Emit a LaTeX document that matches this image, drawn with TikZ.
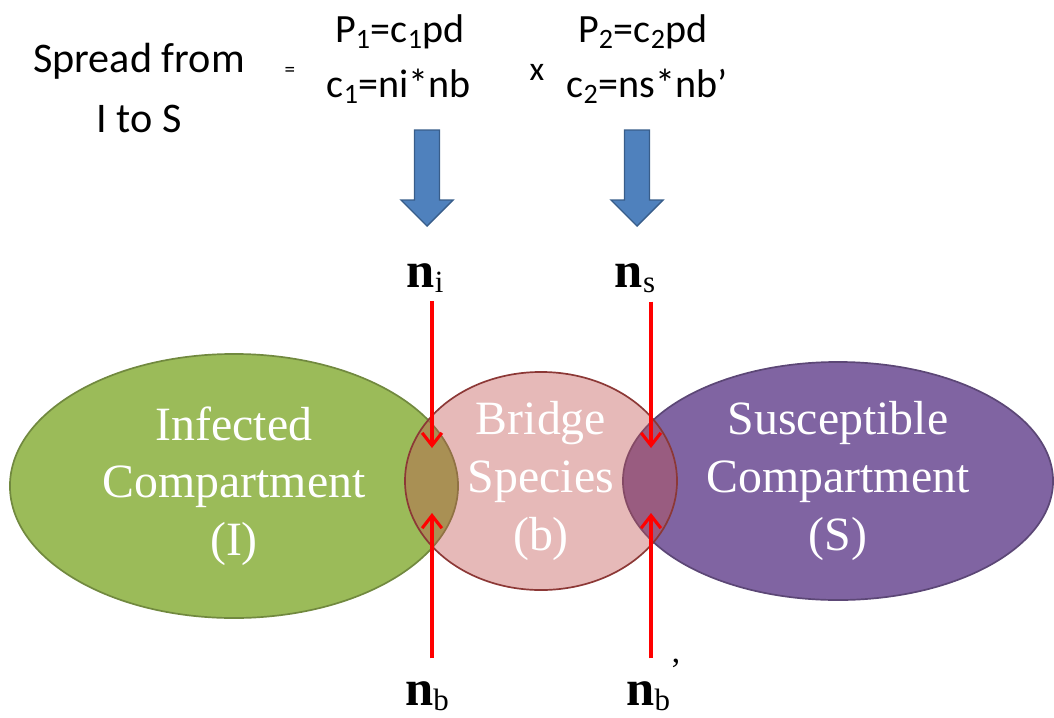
\documentclass[tikz,border=0pt]{standalone}
\usepackage{fontspec}
\setmainfont{Liberation Serif}
\newfontfamily\slidefont{Carlito}
\usetikzlibrary{shapes.geometric, arrows.meta, positioning, calc}
\definecolor{infectedgreen}{HTML}{9BBB59}
\definecolor{infectedborder}{HTML}{71893F}
\definecolor{bridgered}{HTML}{C0504D}
\definecolor{bridgeborder}{HTML}{8C3836}
\definecolor{susceptpurple}{HTML}{8064A2}
\definecolor{susceptborder}{HTML}{5C4776}
\definecolor{blockblue}{HTML}{4F81BD}
\definecolor{blockborder}{HTML}{385D8A}
\definecolor{hitred}{HTML}{FF0000}
\newcommand{\nsub}[1]{\raisebox{-4pt}{\fontsize{22}{22}\selectfont\mdseries #1}}

\begin{document}
\begin{tikzpicture}[x=0.025cm, y=-0.025cm,
  comp/.style={ellipse, inner sep=0pt, outer sep=0pt, line width=1.2pt},
  comptext/.style={align=center, text=white, font=\fontsize{34}{41}\selectfont},
  formula/.style={anchor=base, inner sep=0pt, font=\slidefont\fontsize{28.5}{30}\selectfont},
  nlabel/.style={anchor=base, inner sep=0pt, font=\fontsize{36}{40}\selectfont\bfseries},
  blockarrow/.style={fill=blockblue, draw=blockborder, line width=1pt, line join=miter},
  hitarrow/.style={draw=hitred, line width=2.2pt, -{Straight Barb[length=9pt, width=14pt]}}
]
  \useasboundingbox (0,0) rectangle (1054,718);

  % Compartments
  \node[comp, fill=infectedgreen, draw=infectedborder, minimum width=11.2cm, minimum height=6.6cm] (infected) at (234,486) {};
  \node[comp, fill=susceptpurple, draw=susceptborder, minimum width=10.75cm, minimum height=5.95cm] (suscept) at (838,481) {};
  \node[comp, fill=bridgered, fill opacity=0.4, draw=bridgeborder, minimum width=6.8cm, minimum height=5.45cm] (bridge) at (541,481) {};

  \node[comptext] (infectedtxt) at (infected) {Infected\\Compartment\\(I)};
  \node[comptext] (bridgetxt) at (bridge) {Bridge\\Species\\(b)};
  \node[comptext] (suscepttxt) at (suscept) {Susceptible\\Compartment\\(S)};

  % Formula
  \node[align=center, inner sep=0pt, font=\slidefont\fontsize{30}{42.7}\selectfont] (spread) at (139,88) {Spread from\\I to S};
  \node[font=\slidefont\fontsize{15}{16}\selectfont] (equals) at (290,72) {=};
  \node[formula] (pone) at (400,42) {P\textsubscript{1}=c\textsubscript{1}pd};
  \node[formula] (cone) at (399,97) {c\textsubscript{1}=ni*nb};
  \node[font=\slidefont\fontsize{24}{26}\selectfont] (times) at (537,72) {x};
  \node[formula] (ptwo) at (643,42) {P\textsubscript{2}=c\textsubscript{2}pd};
  \node[formula] (ctwo) at (647,97) {c\textsubscript{2}=ns*nb’};

  % Block arrows
  \draw[blockarrow, shift={(427,130)}] (-12.5,0) -- (12.5,0) -- (12.5,70) -- (26,70) -- (0,96) -- (-26,70) -- (-12.5,70) -- cycle;
  \draw[blockarrow, shift={(637,130)}] (-12.5,0) -- (12.5,0) -- (12.5,70) -- (26,70) -- (0,96) -- (-26,70) -- (-12.5,70) -- cycle;

  % Contact counts
  \node[nlabel] (ni) at (425,287) {n\nsub{i}};
  \node[nlabel] (ns) at (635,287) {n\nsub{s}};
  \node[nlabel] (nb) at (427,705) {n\nsub{b}};
  \node[nlabel] (nbp) at (654,705) {n\nsub{b}\smash{\raisebox{17pt}{\fontsize{24}{24}\selectfont\mdseries ’}}};

  \coordinate (hitIdown) at (432,448);
  \coordinate (hitIup) at (432,513);
  \coordinate (hitSdown) at (651,448);
  \coordinate (hitSup) at (651,513);

  \draw[hitarrow, shorten <=6pt] (ni.south -| hitIdown) -- (hitIdown);
  \draw[hitarrow, shorten <=6pt] (ns.south -| hitSdown) -- (hitSdown);
  \draw[hitarrow, shorten <=16pt] (nb.north -| hitIup) -- (hitIup);
  \draw[hitarrow, shorten <=16pt] (nbp.north -| hitSup) -- (hitSup);
\end{tikzpicture}
\end{document}
